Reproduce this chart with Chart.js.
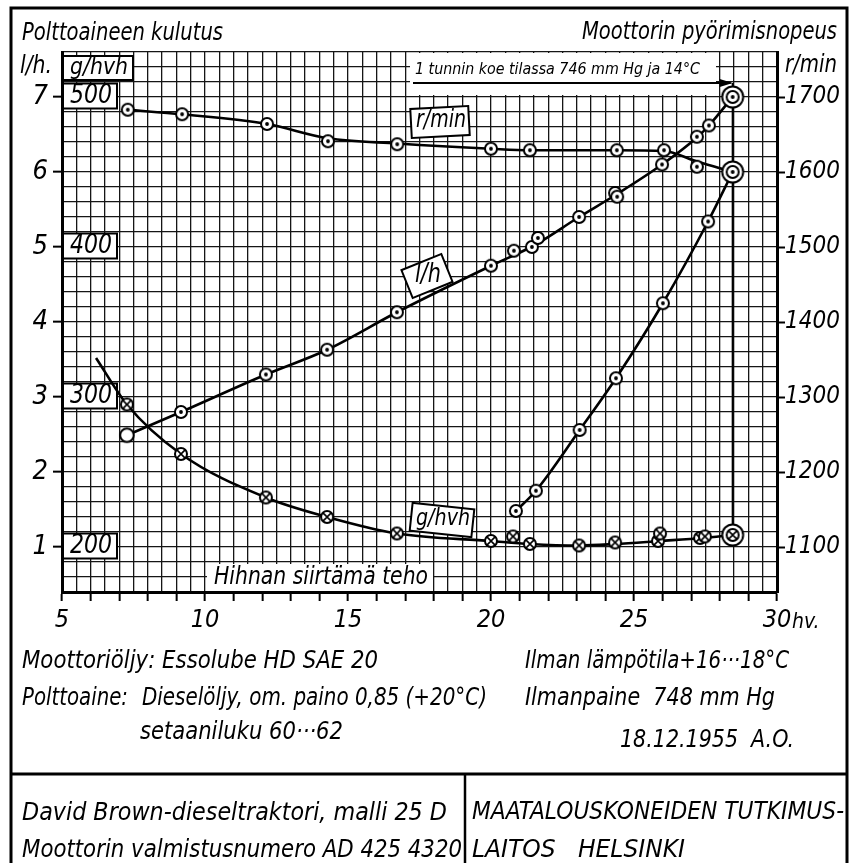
<!DOCTYPE html>
<html><head><meta charset="utf-8">
<script src="https://cdn.jsdelivr.net/npm/chart.js@4/dist/chart.umd.min.js"></script>
<style>html,body{margin:0;padding:0;background:#fff;}canvas{display:block;}</style>
</head><body>
<canvas id="c" width="853" height="863"></canvas>
<script>
const FONT = "'Liberation Sans Narrow','DejaVu Sans Condensed','DejaVu Sans',sans-serif";

// ---- tick labels ----
const xLabels = [5, 10, 15, 20, 25, 30];
const lhLabels = [1, 2, 3, 4, 5, 6, 7];
const gLabels = [200, 300, 400, 500];
const rLabels = [1100, 1200, 1300, 1400, 1500, 1600, 1700];

// ---- r/min (governed speed) ----
const rPtX = [7.3, 9.2, 12.17, 14.3, 16.72, 20.0, 21.36, 24.4, 26.05, 27.2];
const rPtY = [1683, 1677, 1664, 1641, 1637, 1631, 1629, 1629, 1629, 1607];
const rCurveX = [7.3, 9.2, 12.17, 14.3, 16.72, 20.0, 21.36, 24.4, 26.05, 27.2, 28.45];
const rCurveY = [1683, 1677, 1664, 1645, 1638, 1631, 1629, 1629, 1628, 1614, 1600];

// ---- r/min at full load ----
const fPtX = [20.87, 21.57, 23.1, 24.37, 26.01, 27.59];
const fPtY = [1148, 1175, 1256, 1325, 1425, 1534];
const fCurveX = [20.87, 21.57, 23.1, 24.37, 26.01, 27.59, 28.45];
const fCurveY = [1148, 1175, 1256, 1325, 1425, 1534, 1600];

// ---- fuel l/h ----
const lhOpenX = [7.27];
const lhOpenY = [2.49];
const lhPtX = [9.16, 12.13, 14.27, 16.71, 20.0, 20.8, 21.43, 21.64, 23.08, 24.34, 24.41, 25.98, 27.2, 27.62];
const lhPtY = [2.8, 3.3, 3.63, 4.13, 4.75, 4.95, 5.0, 5.12, 5.4, 5.72, 5.67, 6.1, 6.47, 6.62];
const lhCurveX = [7.27, 9.16, 12.13, 14.27, 16.71, 20.0, 21.5, 23.08, 24.38, 25.98, 27.2, 27.62, 28.45];
const lhCurveY = [2.49, 2.8, 3.3, 3.63, 4.13, 4.75, 5.02, 5.4, 5.7, 6.1, 6.46, 6.62, 7.0];

// ---- fuel g/hvh ----
const gPtX = [7.27, 9.16, 12.13, 14.27, 16.71, 20.0, 20.77, 21.36, 23.08, 24.34, 25.84, 25.91, 27.31, 27.48];
const gPtY = [295, 262, 233, 220, 209, 204, 207, 202, 201, 203, 204, 209, 206, 207];
const gCurveX = [6.19, 7.27, 9.16, 12.13, 14.27, 16.71, 20.0, 21.36, 23.08, 24.34, 25.9, 27.4, 28.45];
const gCurveY = [326, 295, 262, 233, 220, 209, 204, 202, 201, 202, 204, 206, 208];

// ---- 1-hour test end point ----
const endX = [28.45];
const endLh = [7.0];
const endR = [1600];
const endG = [208];

const zip = (xs, ys) => xs.map((v, i) => ({x: v, y: ys[i]}));
const xGrid = Array.from({length: 51}, (_, i) => 5 + 0.5 * i);
const yGrid = Array.from({length: 37}, (_, i) => Math.round((0.4 + 0.2 * i) * 10) / 10);

function marker(kind) {
  const S = 26, c = document.createElement('canvas');
  c.width = S; c.height = S;
  const g = c.getContext('2d'), m = S / 2;
  g.strokeStyle = '#000'; g.fillStyle = '#fff'; g.lineWidth = 2;
  const circ = r => { g.beginPath(); g.arc(m, m, r, 0, Math.PI * 2); g.fillStyle = '#fff'; g.fill(); g.stroke(); };
  if (kind.startsWith('dbl')) circ(10.5);
  circ(kind === 'open' ? 6.8 : 6);
  if (kind === 'dot' || kind === 'dbldot') { g.beginPath(); g.arc(m, m, 1.9, 0, Math.PI * 2); g.fillStyle = '#000'; g.fill(); }
  if (kind === 'cross' || kind === 'dblcross') {
    const d = 4.1; g.lineWidth = 1.6; g.beginPath();
    g.moveTo(m - d, m - d); g.lineTo(m + d, m + d); g.moveTo(m + d, m - d); g.lineTo(m - d, m + d); g.stroke();
  }
  return c;
}
const mDot = marker('dot'), mOpen = marker('open'), mCross = marker('cross'), mDblDot = marker('dbldot'), mDblCross = marker('dblcross');

function txt(ctx, s, x, y, size, align, w) {
  ctx.save();
  ctx.font = 'italic ' + size + 'px ' + FONT;
  ctx.textBaseline = 'middle';
  ctx.textAlign = align || 'left';
  ctx.fillStyle = '#000';
  ctx.translate(x, y);
  if (w) { const mw = ctx.measureText(s).width; ctx.scale(w / mw, 1); }
  ctx.fillText(s, 0, 0);
  ctx.restore();
}
function rbox(ctx, cx, cy, w, h, angDeg, border) {
  ctx.save();
  ctx.translate(cx, cy); ctx.rotate(angDeg * Math.PI / 180);
  ctx.fillStyle = '#fff'; ctx.fillRect(-w / 2, -h / 2, w, h);
  if (border) { ctx.lineWidth = 2; ctx.strokeStyle = '#000'; ctx.strokeRect(-w / 2, -h / 2, w, h); }
  ctx.restore();
}
function line(ctx, pts, w) {
  ctx.save(); ctx.beginPath(); ctx.moveTo(pts[0][0], pts[0][1]);
  for (let i = 1; i < pts.length; i++) ctx.lineTo(pts[i][0], pts[i][1]);
  ctx.lineWidth = w; ctx.strokeStyle = '#000'; ctx.stroke(); ctx.restore();
}

const overlay = {
  id: 'overlay',
  beforeDatasetsDraw(chart) {
    const ctx = chart.ctx, sx = chart.scales.x, sy = chart.scales.y, sg = chart.scales.yg;
    // header box g/hvh
    rbox(ctx, 98, 68, 70, 24, 0, true);
    txt(ctx, 'g/hvh', 70, 68, 23, 'left', 58);
    // g/hvh value boxes
    gLabels.forEach(g => {
      const py = sg.getPixelForValue(g);
      rbox(ctx, 90, py - 1, 54, 25, 0, true);
      txt(ctx, String(g), 91, py - 1, 26, 'center', 42);
    });
    // note box + arrow
    const xe = sx.getPixelForValue(endX[0]);
    ctx.save(); ctx.fillStyle = '#fff'; ctx.fillRect(410, 53, 306, sy.getPixelForValue(7.0) - 55); ctx.restore();
    txt(ctx, '1 tunnin koe tilassa 746 mm Hg ja 14°C', 415, 70, 16, 'left', 285);
    const ya = 83;
    line(ctx, [[413, ya], [xe - 2, ya]], 2);
    ctx.save(); ctx.beginPath(); ctx.moveTo(xe - 13, ya - 4); ctx.lineTo(xe, ya); ctx.lineTo(xe - 13, ya + 4); ctx.closePath(); ctx.fillStyle = '#000'; ctx.fill(); ctx.restore();
    line(ctx, [[xe, ya], [xe, sg.getPixelForValue(endG[0]) - 10]], 2);
    // curve label boxes
    rbox(ctx, 440, 122, 58, 29, -3, true);
    txt(ctx, 'r/min', 441, 121, 24, 'center', 50);
    rbox(ctx, 427, 276, 43, 30, -22, true);
    txt(ctx, 'l/h', 428, 275, 26, 'center', 26);
    rbox(ctx, 442, 520, 62, 28, 6, true);
    txt(ctx, 'g/hvh', 443, 519, 23, 'center', 54);
    // axis title inside plot
    ctx.save(); ctx.fillStyle = '#fff'; ctx.fillRect(207, 564, 226, 27); ctx.restore();
    txt(ctx, 'Hihnan siirtämä teho', 214, 578, 24, 'left', 214);
  },
  afterDraw(chart) {
    const ctx = chart.ctx;
    // headers
    txt(ctx, 'Polttoaineen kulutus', 22, 34, 24, 'left', 201);
    txt(ctx, 'l/h.', 20, 67, 24, 'left', 32);
    txt(ctx, 'Moottorin pyörimisnopeus', 837, 33, 24, 'right', 255);
    txt(ctx, 'r/min', 785, 66, 24, 'left', 52);
    txt(ctx, 'hv.', 792, 623, 21);
    // notes
    txt(ctx, 'Moottoriöljy: Essolube HD SAE 20', 22, 662, 24, 'left', 356);
    txt(ctx, 'Polttoaine:', 22, 699, 24, 'left', 106);
    txt(ctx, 'Dieselöljy, om. paino 0,85 (+20°C)', 142, 699, 24, 'left', 345);
    txt(ctx, 'setaaniluku 60···62', 140, 733, 24, 'left', 203);
    txt(ctx, 'Ilman lämpötila+16···18°C', 525, 662, 24, 'left', 264);
    txt(ctx, 'Ilmanpaine  748 mm Hg', 525, 699, 24, 'left', 250);
    txt(ctx, '18.12.1955  A.O.', 620, 741, 24, 'left', 174);
    txt(ctx, 'David Brown-dieseltraktori, malli 25 D', 22, 814, 24, 'left', 425);
    txt(ctx, 'Moottorin valmistusnumero AD 425 4320', 22, 851, 24, 'left', 440);
    txt(ctx, 'MAATALOUSKONEIDEN TUTKIMUS-', 472, 813, 24, 'left', 372);
    txt(ctx, 'LAITOS   HELSINKI', 472, 851, 24, 'left', 213);
    // frame
    line(ctx, [[11, 863], [11, 8], [847, 8], [847, 863]], 3);
    line(ctx, [[11, 774], [847, 774]], 3);
    line(ctx, [[465, 774], [465, 863]], 2.5);
  }
};

const tickFont = size => ({family: FONT, size: size, style: 'italic'});
const isInt = v => Math.abs(v - Math.round(v)) < 1e-6;
const GRID = '#151515';

new Chart(document.getElementById('c'), {
  type: 'line',
  data: {
    datasets: [
      {type: 'scatter', data: zip(endX, endLh), yAxisID: 'y', pointStyle: mDblDot, pointRadius: 10},
      {type: 'scatter', data: zip(endX, endR), yAxisID: 'yr', pointStyle: mDblDot, pointRadius: 10},
      {type: 'scatter', data: zip(endX, endG), yAxisID: 'yg', pointStyle: mDblCross, pointRadius: 10},
      {type: 'scatter', data: zip(rPtX, rPtY), yAxisID: 'yr', pointStyle: mDot, pointRadius: 6},
      {type: 'scatter', data: zip(fPtX, fPtY), yAxisID: 'yr', pointStyle: mDot, pointRadius: 6},
      {type: 'scatter', data: zip(lhPtX, lhPtY), yAxisID: 'y', pointStyle: mDot, pointRadius: 6},
      {type: 'scatter', data: zip(lhOpenX, lhOpenY), yAxisID: 'y', pointStyle: mOpen, pointRadius: 7},
      {type: 'scatter', data: zip(gPtX, gPtY), yAxisID: 'yg', pointStyle: mCross, pointRadius: 6},
      {data: zip(rCurveX, rCurveY), yAxisID: 'yr', borderColor: '#000', borderWidth: 2.6, pointRadius: 0, cubicInterpolationMode: 'monotone', fill: false},
      {data: zip(fCurveX, fCurveY), yAxisID: 'yr', borderColor: '#000', borderWidth: 2.6, pointRadius: 0, cubicInterpolationMode: 'monotone', fill: false},
      {data: zip(lhCurveX, lhCurveY), yAxisID: 'y', borderColor: '#000', borderWidth: 2.6, pointRadius: 0, cubicInterpolationMode: 'monotone', fill: false},
      {data: zip(gCurveX, gCurveY), yAxisID: 'yg', borderColor: '#000', borderWidth: 2.6, pointRadius: 0, cubicInterpolationMode: 'monotone', fill: false}
    ]
  },
  options: {
    responsive: false,
    devicePixelRatio: 1,
    animation: false,
    events: [],
    layout: {padding: {left: 12, right: 6, top: 52, bottom: 226}},
    plugins: {legend: {display: false}, tooltip: {enabled: false}},
    scales: {
      x: {
        type: 'linear', min: 5, max: 30,
        afterBuildTicks: s => { s.ticks = xGrid.map(v => ({value: v})); },
        afterFit: s => { s.height = 45; },
        ticks: {autoSkip: false, maxRotation: 0, minRotation: 0, padding: 4, color: '#000', font: tickFont(25),
          callback: v => xLabels.includes(v) ? String(v) : ''},
        grid: {color: GRID, lineWidth: 1.3, tickLength: 9, tickWidth: 2,
          tickColor: c => (c.tick && isInt(c.tick.value)) ? '#000' : 'rgba(0,0,0,0)'},
        border: {display: true, width: 3, color: '#000'}
      },
      y: {
        position: 'left', min: 0.4, max: 7.6,
        afterBuildTicks: s => { s.ticks = yGrid.map(v => ({value: v})); },
        afterFit: s => { s.width = 50; },
        ticks: {autoSkip: false, padding: 5, color: '#000', font: tickFont(27),
          callback: v => lhLabels.includes(Math.round(v * 10) / 10) ? String(Math.round(v)) : ''},
        grid: {color: GRID, lineWidth: 1.3, tickLength: 9, tickWidth: 2,
          tickColor: c => (c.tick && isInt(c.tick.value)) ? '#000' : 'rgba(0,0,0,0)'},
        border: {display: true, width: 3, color: '#000'}
      },
      yr: {
        position: 'right', min: 1040, max: 1760,
        afterBuildTicks: s => { s.ticks = rLabels.map(v => ({value: v})); },
        afterFit: s => { s.width = 70; },
        ticks: {autoSkip: false, padding: 0, color: '#000', font: tickFont(24), callback: v => String(v)},
        grid: {drawOnChartArea: false, tickLength: 8, tickWidth: 2, tickColor: '#000'},
        border: {display: true, width: 3, color: '#000'}
      },
      yg: {display: false, min: 170, max: 530}
    }
  },
  plugins: [overlay]
});
</script>
</body></html>
